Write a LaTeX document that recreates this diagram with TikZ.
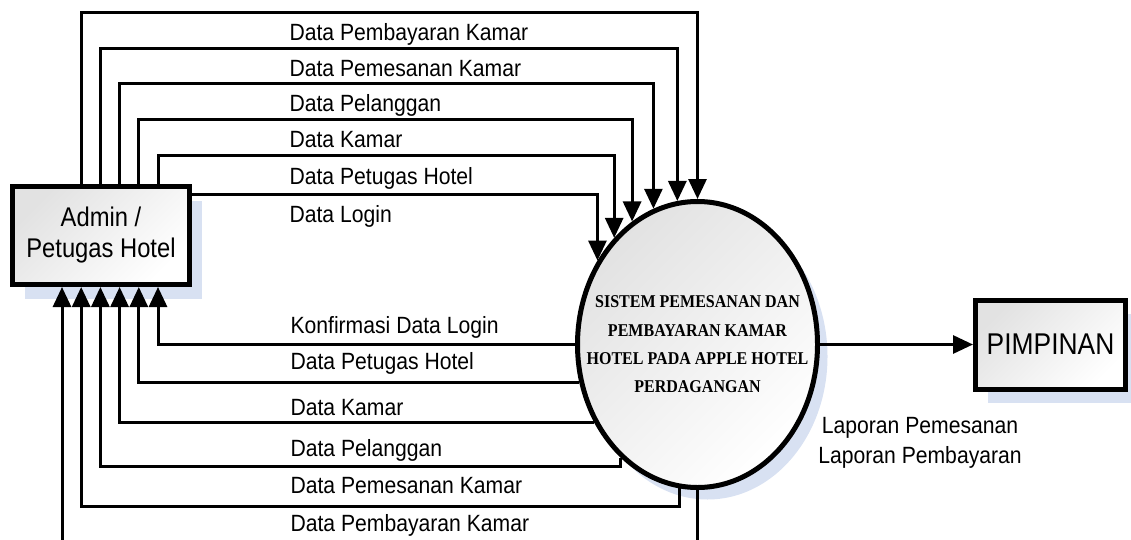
\documentclass[tikz,border=0pt]{standalone}
\usepackage{fontspec}
\setmainfont{Liberation Sans}
\newfontfamily\flowfont{Liberation Sans}[FakeStretch=0.9]
\newfontfamily\boxfont{Liberation Sans}[FakeStretch=0.88]
\newfontfamily\sysfont{Liberation Serif}[FakeStretch=0.89]
\usepackage{xcolor}
\usepackage{tikz}
\usetikzlibrary{shapes.geometric, arrows.meta, shadows}
\definecolor{shadowblue}{RGB}{216,225,242}
\definecolor{boxgray}{RGB}{226,226,226}
\tikzstyle{entity}    = [rectangle, draw, line width=5pt, top color=boxgray, bottom color=white, shading angle=45, align=center, inner sep=0pt, drop shadow={shadow xshift=12pt, shadow yshift=-14pt, fill=shadowblue, opacity=1}]
\tikzstyle{proses}    = [ellipse, draw, line width=5pt, inner sep=0pt, minimum width=240pt, minimum height=286pt, top color=boxgray, bottom color=white, shading angle=45, drop shadow={shadow xshift=10pt, shadow yshift=-12pt, fill=shadowblue, opacity=1}]
\tikzstyle{systext}   = [align=center, inner sep=0pt, font=\sysfont\bfseries\fontsize{18}{28.3}\selectfont]
\tikzstyle{flow}      = [-{Triangle[length=20pt, width=18pt]}, line width=3pt]
\tikzstyle{flowlabel} = [anchor=base west, inner sep=0pt, font=\flowfont\fontsize{23.5}{30}\selectfont]

\begin{document}
\begin{tikzpicture}[x=1pt, y=-1pt]
    \useasboundingbox (0,0) rectangle (1131,540);
    \clip (0,0) rectangle (1131,540);

    \node (admin) [entity, minimum width=177pt, minimum height=98pt, font=\boxfont\fontsize{27}{31}\selectfont] at (101,235.5) {Admin /\\Petugas Hotel};
    \node (sys) [proses] at (697.5,344.5) {};
    \node (systxt) [systext] at (sys.center) {SISTEM PEMESANAN DAN\\PEMBAYARAN KAMAR\\HOTEL PADA APPLE HOTEL\\PERDAGANGAN};
    \node (pimp) [entity, minimum width=150pt, minimum height=89pt, font=\boxfont\fontsize{30}{32}\selectfont] at (1050.5,344.5) {PIMPINAN};

    \draw [flow] (admin.north -| 81.2,0) -- (81.2,13) -| (sys.90) node [flowlabel] at (288,41) {Data Pembayaran Kamar};
    \draw [flow] (admin.north -| 100.4,0) -- (100.4,49) -| (sys.98.9) node [flowlabel] at (288,77) {Data Pemesanan Kamar};
    \draw [flow] (admin.north -| 119.6,0) -- (119.6,84) -| (sys.108.6) node [flowlabel] at (288,112) {Data Pelanggan};
    \draw [flow] (admin.north -| 138.8,0) -- (138.8,120) -| (sys.118) node [flowlabel] at (288,148) {Data Kamar};
    \draw [flow] (admin.north -| 158,0) -- (158,156) -| (sys.128.7) node [flowlabel] at (288,184) {Data Petugas Hotel};
    \draw [flow] (admin.east |- 0,194) -| (sys.140.4) node [flowlabel] at (288,222) {Data Login};

    \draw [flow] (sys.west) -| (admin.south -| 158,0) node [flowlabel] at (289,333) {Konfirmasi Data Login};
    \draw [flow] (sys.198.05) -| (admin.south -| 138.8,0) node [flowlabel] at (289,369) {Data Petugas Hotel};
    \draw [flow] (sys.217.8) -| (admin.south -| 119.6,0) node [flowlabel] at (289,415) {Data Kamar};
    \draw [flow] (sys.236.6) |- (100.4,466) -- (admin.south -| 100.4,0) node [flowlabel] at (289,456) {Data Pelanggan};
    \draw [flow] (sys.263.1) |- (81.2,506) -- (admin.south -| 81.2,0) node [flowlabel] at (289,493) {Data Pemesanan Kamar};
    \draw [flow] (sys.south) |- (62,548) -- (admin.south -| 62,0) node [flowlabel] at (289,531) {Data Pembayaran Kamar};

    \draw [flow] (sys.east) -- (pimp.west) node [flowlabel, anchor=north, align=center] at (920,416) {Laporan Pemesanan\\Laporan Pembayaran};
  \end{tikzpicture}
\end{document}
